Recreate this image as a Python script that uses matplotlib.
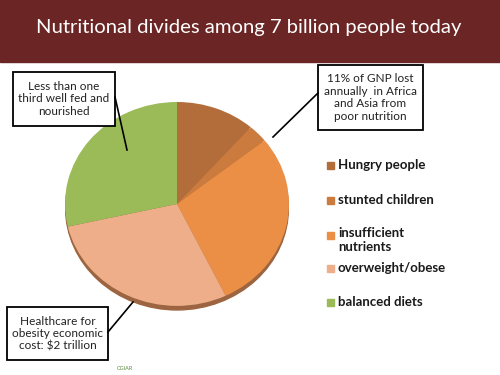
import matplotlib.pyplot as plt
from matplotlib.patches import Rectangle, Ellipse

plt.rcParams['font.family'] = ['Lato', 'DejaVu Sans']

title = "Nutritional divides among 7 billion people today"
groups = ["Hungry people", "stunted children", "insufficient\nnutrients",
          "overweight/obese", "balanced diets"]
people = [0.8, 0.2, 2.0, 2.0, 2.0]   # billions
colors = ["#B36D3A", "#CC7B3E", "#EA8F45", "#EEAE8A", "#9BBB59"]
notes = ["Less than one\nthird well fed and\nnourished",
         "11% of GNP lost\nannually  in Africa\nand Asia from\npoor nutrition",
         "Healthcare for\nobesity economic\ncost: $2 trillion"]

W, H = 500, 375
fig = plt.figure(figsize=(W / 100, H / 100), dpi=100)
fig.patch.set_facecolor("white")

def px(x0, y0, x1, y1):
    return [x0 / W, 1 - y1 / H, (x1 - x0) / W, (y1 - y0) / H]

# pie, slightly squashed like the slide
ax = fig.add_axes(px(65, 102, 289, 312))
ax.add_patch(Ellipse((0, -0.04), 1.99, 2.0, color="#9C6440", zorder=0))
ax.pie(people, colors=colors, startangle=90, counterclock=False,
       wedgeprops=dict(edgecolor="none"))
ax.set_aspect("auto")
ax.set_xlim(-1.0, 1.0)
ax.set_ylim(-1.06, 1.0)
ax.axis("off")

# overlay in pixel coords
ov = fig.add_axes([0, 0, 1, 1])
ov.set_xlim(0, W)
ov.set_ylim(H, 0)
ov.axis("off")

ov.add_patch(Rectangle((0, 0), W, 62, color="#6B2524", zorder=1))
ov.text(249, 27, title, color="white", fontsize=14.6, ha="center",
        va="center", zorder=2)

# legend
leg_y = [165, 200, 240, 268, 302]
for lab, c, y in zip(groups, colors, leg_y):
    ov.add_patch(Rectangle((327, (y - 8.5) if "\n" in lab else (y - 3.5)), 7, 7,
                           color=c, zorder=2))
    ov.text(338, y, lab, fontsize=9.5, fontweight="bold", color="#1a1a1a",
            va="center", ha="left", linespacing=1.25)

# note boxes with leader lines
boxes = [(13, 72, 115, 126), (318, 65, 423, 130), (7, 307, 108, 360)]
lines = [((115, 97), (127, 150)), ((318, 93), (273, 137)), ((108, 332), (133, 302))]
for txt, (x0, y0, x1, y1), (p, q) in zip(notes, boxes, lines):
    ov.add_patch(Rectangle((x0, y0), x1 - x0, y1 - y0, facecolor="white",
                           edgecolor="black", lw=1.3, zorder=3))
    ov.text((x0 + x1) / 2, (y0 + y1) / 2, txt, fontsize=8.5, ha="center",
            va="center", linespacing=1.15, color="#222222", zorder=4)
    ov.plot([p[0], q[0]], [p[1], q[1]], color="black", lw=1.2, zorder=3)

ov.text(125, 368, "CGIAR", fontsize=4, color="#5a8a3a", ha="center", va="center")

fig.savefig("out.png", dpi=100)
